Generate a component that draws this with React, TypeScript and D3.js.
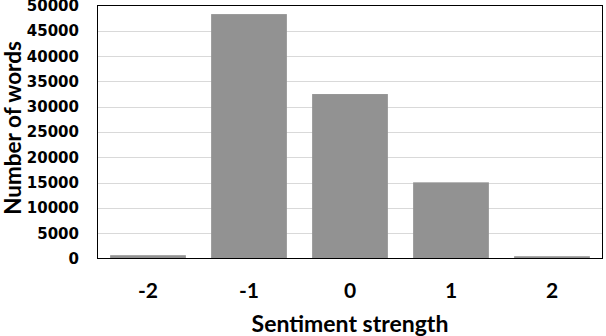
import React from "react";
import * as d3 from "d3";

const categories = ["-2", "-1", "0", "1", "2"];
const wordCounts = [650, 48300, 32500, 15050, 450];
const yTicks = [0, 5000, 10000, 15000, 20000, 25000, 30000, 35000, 40000, 45000, 50000];
const xTitle = "Sentiment strength";
const yTitle = "Number of words";

const W = 606;
const H = 336;
const M = { left: 97.5, right: 3.5, top: 5.5, bottom: 77.5 };

export default function App() {
  const x = d3
    .scaleBand<string>()
    .domain(categories)
    .range([M.left, W - M.right])
    .paddingInner(0.25)
    .paddingOuter(0.125);
  const y = d3.scaleLinear().domain([0, 50000]).range([H - M.bottom, M.top]);
  const titleFont = "Lato, 'Open Sans', sans-serif";
  const tickFont = "'DejaVu Sans', sans-serif";
  return (
    <svg
      width={W}
      height={H}
      style={{ position: "absolute", left: 0, top: 0, background: "#fff" }}
    >
      {yTicks.slice(1, -1).map((t) => (
        <line
          key={"g" + t}
          x1={M.left}
          x2={W - M.right}
          y1={Math.round(y(t)) + 0.5}
          y2={Math.round(y(t)) + 0.5}
          stroke="#d9d9d9"
          strokeWidth={1}
        />
      ))}
      {categories.map((c, i) => (
        <rect
          key={c}
          x={x(c)}
          width={x.bandwidth()}
          y={y(wordCounts[i])}
          height={y(0) - y(wordCounts[i])}
          fill="#929292"
        />
      ))}
      <rect
        x={M.left}
        y={M.top}
        width={W - M.left - M.right}
        height={H - M.top - M.bottom}
        fill="none"
        stroke="#000"
        strokeWidth={1}
      />
      {yTicks.map((t) => (
        <text
          key={"t" + t}
          x={79}
          y={y(t)}
          dy="0.36em"
          textAnchor="end"
          fontFamily={tickFont}
          fontWeight="bold"
          fontSize={15}
          fill="#000"
        >
          {t}
        </text>
      ))}
      {categories.map((c) => (
        <text
          key={"x" + c}
          x={(x(c) as number) + x.bandwidth() / 2}
          y={298}
          textAnchor="middle"
          fontFamily={titleFont}
          fontWeight="bold"
          fontSize={21}
          fill="#000"
        >
          {c}
        </text>
      ))}
      <text
        x={(M.left + W - M.right) / 2}
        y={332}
        textAnchor="middle"
        fontFamily={titleFont}
        fontWeight="bold"
        fontSize={23}
        fill="#000"
      >
        {xTitle}
      </text>
      <text
        transform={`translate(21,128) rotate(-90)`}
        textAnchor="middle"
        fontFamily={titleFont}
        fontWeight="bold"
        fontSize={22.5}
        fill="#000"
      >
        {yTitle}
      </text>
    </svg>
  );
}
